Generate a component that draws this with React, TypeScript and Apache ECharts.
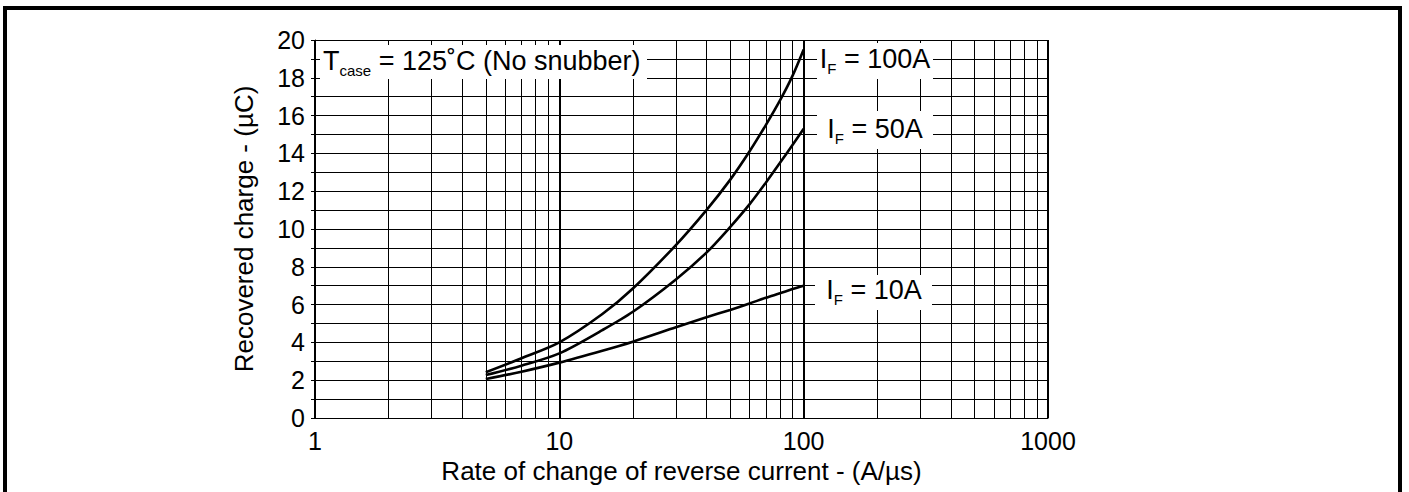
import React, { useEffect, useRef } from "react";
import * as echarts from "echarts";

const rateX = [5, 7, 10, 15, 20, 30, 40, 50, 60, 70, 80, 90, 100];
const qrr100A = [2.42, 3.16, 4.0, 5.5, 6.85, 9.15, 11.0, 12.6, 14.1, 15.5, 16.8, 18.1, 19.5];
const qrr50A = [2.27, 2.77, 3.42, 4.65, 5.62, 7.33, 8.75, 10.1, 11.3, 12.45, 13.5, 14.45, 15.3];
const qrr10A = [2.06, 2.45, 2.93, 3.56, 4.04, 4.8, 5.33, 5.72, 6.06, 6.36, 6.6, 6.82, 7.0];
const minorX = [2, 3, 4, 5, 6, 7, 8, 9, 20, 30, 40, 50, 60, 70, 80, 90, 200, 300, 400, 500, 600, 700, 800, 900];
const xTitle = "Rate of change of reverse current - (A/µs)";
const yTitle = "Recovered charge - (µC)";

const FONT = "'Liberation Sans', Arial, Helvetica, sans-serif";

export default function App() {
  const ref = useRef<HTMLDivElement>(null);
  useEffect(() => {
    document.body.style.margin = "0";
    const chart = echarts.init(ref.current!, undefined, { renderer: "svg" });
    const pair = (ys: number[]) => rateX.map((x, i) => [x, ys[i]]);
    const lineSeries = (name: string, ys: number[], extra: any = {}) => ({
      name,
      type: "line",
      data: pair(ys),
      smooth: 0.3,
      symbol: "none",
      lineStyle: { color: "#000", width: 2.6 },
      z: 10,
      ...extra,
    });
    const rich = {
      a: { fontSize: 27, fontFamily: FONT, color: "#000", lineHeight: 34 },
      b: { fontSize: 15, fontFamily: FONT, color: "#000", lineHeight: 8, verticalAlign: "bottom" },
    };
    const label = (cx: number, cy: number, bx: number, by: number, bw: number, bh: number, main: string, sub: string, rest: string, align = "center") => ({
      type: "group",
      z: 100,
      children: [
        { type: "rect", z: 100, shape: { x: bx, y: by, width: bw, height: bh }, style: { fill: "#fff" } },
        {
          type: "text",
          z: 101,
          x: cx,
          y: cy,
          style: {
            text: `{a|${main}}{b|${sub}}{a|${rest}}`,
            rich,
            align,
            verticalAlign: "middle",
          },
        },
      ],
    });
    chart.setOption({
      animation: false,
      backgroundColor: "#fff",
      grid: { left: 315, right: 361, top: 40, bottom: 74, containLabel: false },
      xAxis: {
        type: "log",
        logBase: 10,
        min: 1,
        max: 1000,
        name: xTitle,
        nameLocation: "middle",
        nameGap: 39,
        nameTextStyle: { fontSize: 26, fontFamily: FONT, color: "#000" },
        axisLine: { show: true, lineStyle: { color: "#000", width: 1 } },
        axisTick: { show: false },
        axisLabel: {
          fontSize: 25,
          fontFamily: FONT,
          color: "#000",
          margin: 10,
          formatter: (v: number) => String(Math.round(v)),
        },
        splitLine: { show: true, lineStyle: { color: "#000", width: 2 } },
      },
      yAxis: {
        type: "value",
        min: 0,
        max: 20,
        interval: 1,
        name: yTitle,
        nameLocation: "middle",
        nameGap: 58,
        nameTextStyle: { fontSize: 26, fontFamily: FONT, color: "#000" },
        axisLine: { show: true, lineStyle: { color: "#000", width: 1 } },
        axisTick: { show: true, length: 4, inside: false, lineStyle: { color: "#000" } },
        axisLabel: {
          fontSize: 25,
          fontFamily: FONT,
          color: "#000",
          margin: 10,
          formatter: (v: number) => (v % 2 === 0 ? String(v) : ""),
        },
        splitLine: { show: true, lineStyle: { color: "#000", width: 1 } },
      },
      series: [
        lineSeries("IF = 100A", qrr100A, {
          markLine: {
            silent: true,
            symbol: ["none", "none"],
            label: { show: false },
            lineStyle: { color: "#000", width: 1, type: "solid" },
            data: minorX.map((v) => ({ xAxis: v })),
            z: 1,
          },
        }),
        lineSeries("IF = 50A", qrr50A),
        lineSeries("IF = 10A", qrr10A),
      ],
      graphic: [
        label(323, 61, 320, 45, 327, 34, "T", "case", " = 125˚C (No snubber)", "left"),
        label(875, 59, 817, 43, 116, 36, "I", "F", " = 100A"),
        label(875, 129, 817, 111, 116, 38, "I", "F", " = 50A"),
        label(874, 290, 815, 275, 117, 35, "I", "F", " = 10A"),
        {
          type: "rect",
          z: 200,
          shape: { x: 5, y: 8, width: 1395, height: 600 },
          style: { fill: "none", stroke: "#000", lineWidth: 4 },
        },
      ],
    });
    return () => chart.dispose();
  }, []);
  return <div ref={ref} style={{ width: 1409, height: 492 }} />;
}
